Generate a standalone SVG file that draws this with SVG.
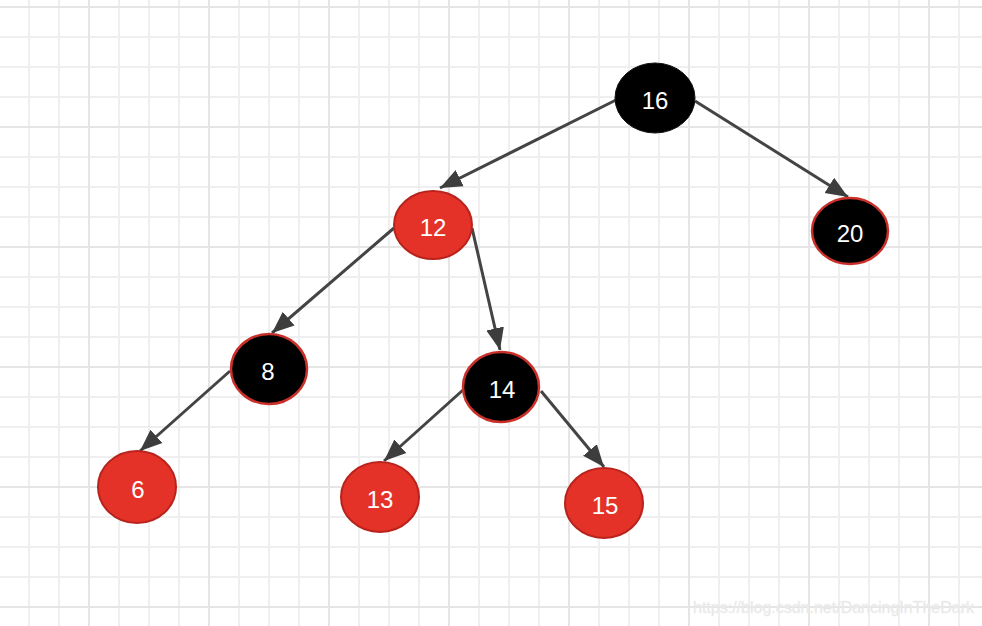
<svg xmlns="http://www.w3.org/2000/svg" width="982" height="626" viewBox="0 0 982 626">
<defs>
<pattern id="minor" x="28" y="6" width="30" height="30" patternUnits="userSpaceOnUse">
<rect x="0" y="0" width="2" height="30" fill="#efefef"/>
<rect x="0" y="0" width="30" height="2" fill="#efefef"/>
</pattern>
<pattern id="major" x="88" y="6" width="120" height="120" patternUnits="userSpaceOnUse">
<rect x="0" y="0" width="2" height="120" fill="#e5e5e5"/>
<rect x="0" y="0" width="120" height="2" fill="#e5e5e5"/>
</pattern>
<marker id="arr" markerUnits="userSpaceOnUse" markerWidth="24" markerHeight="20" refX="22" refY="9" orient="auto" viewBox="0 0 24 18">
<path d="M0 0L22 9L0 18Z" fill="#3d3d3d"/>
</marker>
</defs>
<style>
.edge{stroke:#444;stroke-width:3;fill:none;marker-end:url(#arr)}
.red{fill:#e53228;stroke:#b8231d;stroke-width:2}
.blk{fill:#000;stroke:#c9302a;stroke-width:2.5}
.root{fill:#000;stroke:#111;stroke-width:1}
.lbl{font-family:"Liberation Sans",Arial,sans-serif;font-size:24px;fill:#fff;text-anchor:middle;dominant-baseline:central}
</style>
<rect width="982" height="626" fill="#fff"/>
<rect width="982" height="626" fill="url(#minor)"/>
<rect width="982" height="626" fill="url(#major)"/>
<g id="connectors">
<line class="edge" x1="616" y1="100" x2="440" y2="188"/>
<line class="edge" x1="695" y1="101" x2="848" y2="197"/>
<line class="edge" x1="394" y1="228" x2="272" y2="333"/>
<line class="edge" x1="472" y1="228" x2="500" y2="350"/>
<line class="edge" x1="230" y1="371" x2="140" y2="451"/>
<line class="edge" x1="463" y1="390" x2="384" y2="461"/>
<line class="edge" x1="541" y1="391" x2="604" y2="467"/>
</g>
<g id="n16"><ellipse class="root" cx="655" cy="98" rx="40" ry="35"/><text class="lbl" x="655" y="100">16</text></g>
<g id="n12"><ellipse class="red" cx="433" cy="225" rx="39" ry="34"/><text class="lbl" x="433" y="227">12</text></g>
<g id="n20"><ellipse class="blk" cx="850" cy="231" rx="38" ry="33"/><text class="lbl" x="850" y="233">20</text></g>
<g id="n8"><ellipse class="blk" cx="269" cy="369" rx="38" ry="35"/><text class="lbl" x="268" y="371">8</text></g>
<g id="n14"><ellipse class="blk" cx="501" cy="387" rx="38" ry="35"/><text class="lbl" x="502" y="389">14</text></g>
<g id="n6"><ellipse class="red" cx="137" cy="487" rx="39" ry="36"/><text class="lbl" x="138" y="489">6</text></g>
<g id="n13"><ellipse class="red" cx="380" cy="497" rx="39" ry="35"/><text class="lbl" x="380" y="499">13</text></g>
<g id="n15"><ellipse class="red" cx="604" cy="503" rx="39" ry="35"/><text class="lbl" x="605" y="505">15</text></g>
<text x="693" y="613" font-family="Liberation Sans,Arial,sans-serif" font-size="16" fill="#e2e2e2" stroke="#f2f2f2" stroke-width="0.5">https://blog.csdn.net/DancingInTheDark</text>
</svg>
